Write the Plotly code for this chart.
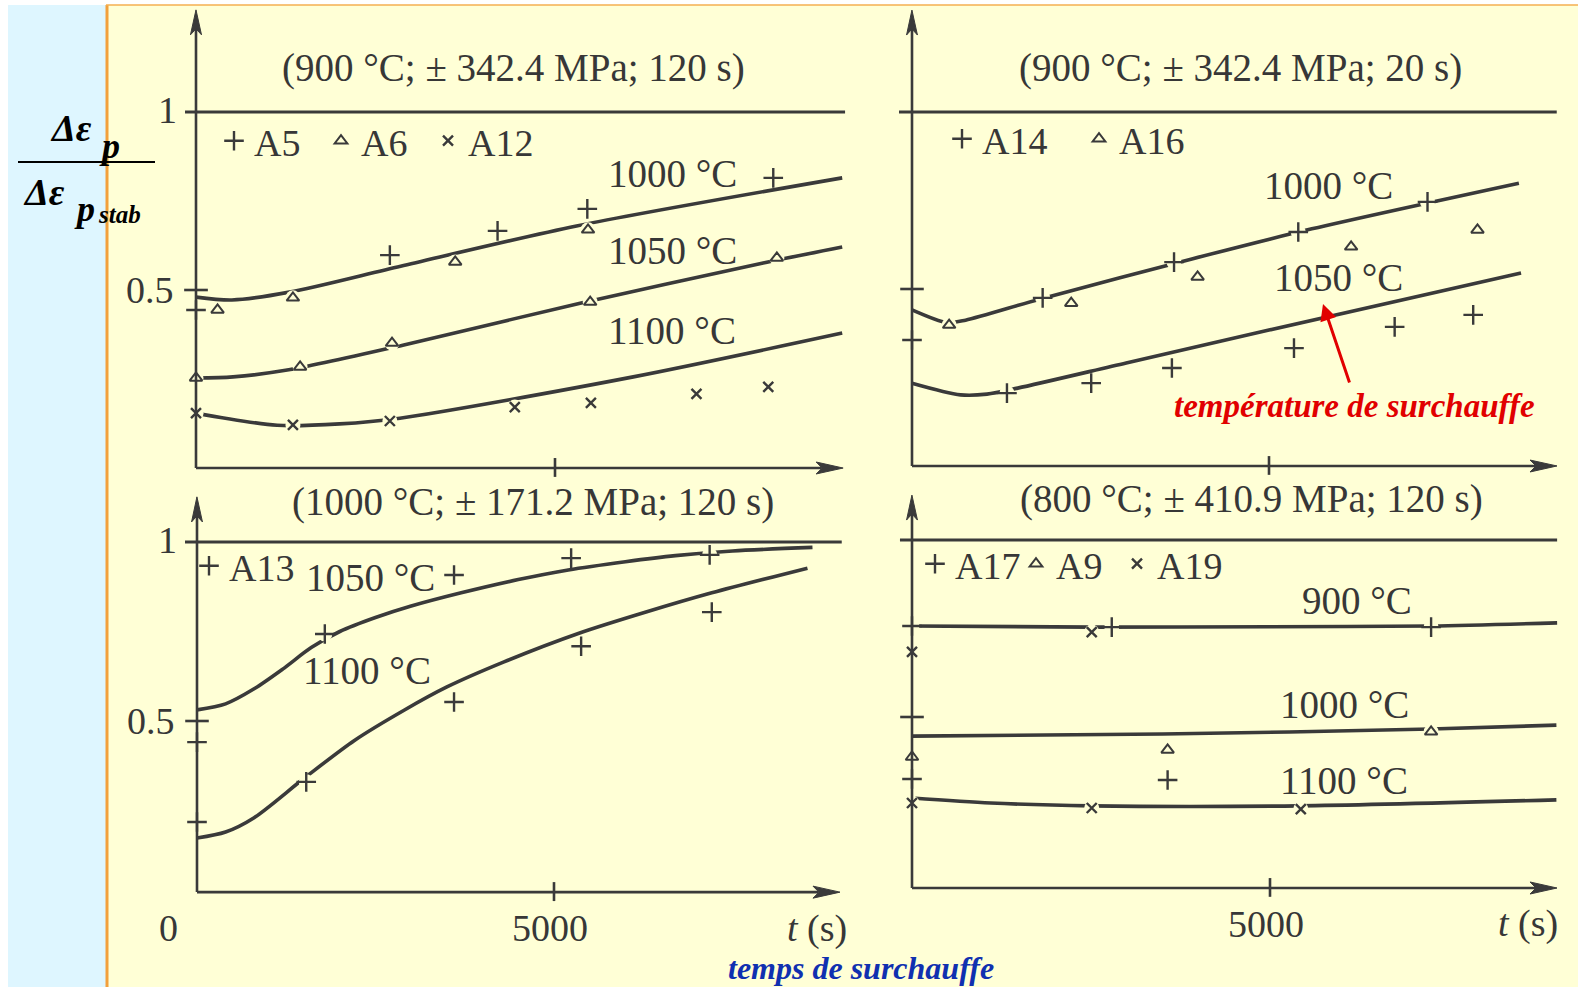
import plotly.graph_objects as go

W, H = 1578, 987

# ---------------- data (time in s, ratio Δεp/Δεp_stab) ----------------
# Top-left panel (900 °C; ±342.4 MPa; 120 s)
TL_C1000_T = [0, 500, 1300, 2850, 5300, 9000]
TL_C1000_V = [0.480, 0.472, 0.494, 0.567, 0.680, 0.815]
TL_C1050_T = [0, 515, 1270, 2880, 5350, 7900, 9000]
TL_C1050_V = [0.253, 0.256, 0.275, 0.345, 0.463, 0.576, 0.621]
TL_C1100_T = [0, 1130, 2000, 2840, 6090, 9000]
TL_C1100_V = [0.154, 0.120, 0.124, 0.140, 0.256, 0.379]
TL_A5_T = [0, 2700, 4200, 5450, 8040]
TL_A5_V = [0.444, 0.598, 0.666, 0.728, 0.815]
TL_A6_T = [300, 1350, 3610, 5460, 0, 1450, 2730, 5490, 8090]
TL_A6_V = [0.444, 0.478, 0.579, 0.669, 0.253, 0.284, 0.351, 0.466, 0.590]
TL_A12_T = [0, 1350, 2700, 4440, 5500, 6970, 7970]
TL_A12_V = [0.154, 0.121, 0.132, 0.171, 0.183, 0.208, 0.228]

# Top-right panel (900 °C; ±342.4 MPa; 20 s)
TR_C1000_T = [0, 490, 750, 1800, 3920, 5600, 8500]
TR_C1000_V = [0.441, 0.405, 0.412, 0.472, 0.585, 0.670, 0.799]
TR_C1050_T = [0, 680, 1050, 1480, 3000, 5000, 8530]
TR_C1050_V = [0.234, 0.201, 0.203, 0.220, 0.291, 0.384, 0.545]
TR_A14_T = [0, 1830, 3670, 5410, 7220, 1330, 2510, 3640, 5350, 6760, 7860]
TR_A14_V = [0.356, 0.475, 0.576, 0.661, 0.746, 0.206, 0.234, 0.277, 0.333, 0.393, 0.427]
TR_A16_T = [520, 2230, 4000, 6150, 7920]
TR_A16_V = [0.398, 0.460, 0.534, 0.619, 0.667]

# Bottom-left panel (1000 °C; ±171.2 MPa; 120 s)
BL_C1050_T = [0, 400, 800, 1200, 1600, 2000, 2500, 3000, 3700, 4500, 5200, 6000, 6700, 7500, 8620]
BL_C1050_V = [0.531, 0.548, 0.590, 0.645, 0.705, 0.750, 0.789, 0.821, 0.858, 0.895, 0.922, 0.945,
              0.962, 0.975, 0.985]
BL_C1100_T = [0, 400, 800, 1500, 2200, 2900, 3500, 4300, 5350, 6300, 7210, 8550]
BL_C1100_V = [0.173, 0.190, 0.230, 0.340, 0.445, 0.530, 0.595, 0.665, 0.745, 0.805, 0.858, 0.927]
BL_A13_T = [0, 1790, 3600, 5240, 7180, 0, 1530, 3600, 5380, 7210]
BL_A13_V = [0.441, 0.743, 0.908, 0.955, 0.964, 0.218, 0.330, 0.553, 0.709, 0.804]

# Bottom-right panel (800 °C; ±410.9 MPa; 120 s)
BR_C900_T = [0, 2500, 5000, 7250, 9010]
BR_C900_V = [0.757, 0.754, 0.755, 0.757, 0.766]
BR_C1000_T = [0, 3500, 7250, 9000]
BR_C1000_V = [0.446, 0.452, 0.466, 0.477]
BR_C1100_T = [0, 1100, 2500, 5400, 9000]
BR_C1100_V = [0.271, 0.257, 0.249, 0.249, 0.266]
BR_A17_T = [0, 2790, 7250, 0, 3570]
BR_A17_V = [0.757, 0.754, 0.754, 0.325, 0.322]
BR_A9_T = [0, 3570, 7250]
BR_A9_V = [0.387, 0.407, 0.458]
BR_A19_T = [2510, 0, 0, 2510, 5430]
BR_A19_V = [0.740, 0.684, 0.257, 0.243, 0.240]

TITLES = ["(900 °C; ± 342.4 MPa; 120 s)", "(900 °C; ± 342.4 MPa; 20 s)",
          "(1000 °C; ± 171.2 MPa; 120 s)", "(800 °C; ± 410.9 MPa; 120 s)"]
X_TICK = 5000
Y_TICK = 0.5
REF_LEVEL = 1.0

# ---------------- layout geometry (pixels) ----------------
PANELS = {
    "TL": dict(ax="", dom_x=(140, 865), dom_y=(3, 490), X0=196, X5=555, Y0=468, Y1=112,
               axis_v=0.0, t_tip=9013, v_tip=1.287, ref=(-153, 9040)),
    "TR": dict(ax="2", dom_x=(870, 1578), dom_y=(3, 490), X0=912, X5=1269, Y0=466, Y1=112,
               axis_v=0.0, t_tip=9034, v_tip=1.288, ref=(-182, 9030)),
    "BL": dict(ax="3", dom_x=(140, 865), dom_y=(490, 960), X0=197, X5=554, Y0=900, Y1=542,
               axis_v=0.022, t_tip=9006, v_tip=1.126, ref=(-168, 9030)),
    "BR": dict(ax="4", dom_x=(870, 1578), dom_y=(490, 960), X0=912, X5=1270, Y0=894, Y1=540,
               axis_v=0.017, t_tip=9008, v_tip=1.127, ref=(-168, 9010)),
}

INK = "rgb(58,58,58)"
TXT = "rgb(55,55,55)"
BG = "rgb(255,255,214)"
SERIF = "Liberation Serif"


def px_of(p, t, v):
    X = p["X0"] + t * (p["X5"] - p["X0"]) / 5000.0
    Y = p["Y0"] - v * (p["Y0"] - p["Y1"])
    return X, Y


def P(x, y):
    return x / W, 1 - y / H


fig = go.Figure()
layout = dict(width=W, height=H, margin=dict(l=0, r=0, t=0, b=0),
              paper_bgcolor="white", plot_bgcolor="rgba(0,0,0,0)", showlegend=True)
shapes, annotations = [], []

for key, p in PANELS.items():
    k = 5000.0 / (p["X5"] - p["X0"])
    s = p["Y0"] - p["Y1"]
    xr = [(p["dom_x"][0] - p["X0"]) * k, (p["dom_x"][1] - p["X0"]) * k]
    yr = [(p["Y0"] - p["dom_y"][1]) / s, (p["Y0"] - p["dom_y"][0]) / s]
    axs = dict(visible=False, showgrid=False, zeroline=False, fixedrange=True)
    layout["xaxis" + p["ax"]] = dict(axs, domain=[p["dom_x"][0] / W, p["dom_x"][1] / W], range=xr,
                                     anchor="y" + p["ax"])
    layout["yaxis" + p["ax"]] = dict(axs, domain=[1 - p["dom_y"][1] / H, 1 - p["dom_y"][0] / H], range=yr,
                                     anchor="x" + p["ax"])
    xref, yref = "x" + p["ax"], "y" + p["ax"]
    av = p["axis_v"]
    line = dict(color=INK, width=2.6)
    # reference line at 1
    shapes.append(dict(type="line", xref=xref, yref=yref, x0=p["ref"][0], x1=p["ref"][1],
                       y0=REF_LEVEL, y1=REF_LEVEL, line=dict(color=INK, width=3)))
    # axes
    shapes.append(dict(type="line", xref=xref, yref=yref, x0=0, x1=p["t_tip"] - 300,
                       y0=av, y1=av, line=line))
    shapes.append(dict(type="line", xref=xref, yref=yref, x0=0, x1=0,
                       y0=av, y1=p["v_tip"] - 0.05, line=line))
    # ticks
    shapes.append(dict(type="line", xref=xref, yref=yref, x0=-165, x1=165,
                       y0=Y_TICK, y1=Y_TICK, line=line))
    shapes.append(dict(type="line", xref=xref, yref=yref, x0=X_TICK, x1=X_TICK,
                       y0=av - 0.025, y1=av + 0.028, line=line))
    # arrow heads (pixel geometry)
    tx, ty = px_of(p, p["t_tip"], av)
    L, hw = 27, 6
    pts = [(tx, ty), (tx - L, ty - hw), (tx - L + 6, ty), (tx - L, ty + hw)]
    path = "M " + " L ".join("%.4f,%.4f" % P(a, b) for a, b in pts) + " Z"
    shapes.append(dict(type="path", xref="paper", yref="paper", path=path,
                       fillcolor=INK, line=dict(color=INK, width=1)))
    ux, uy = px_of(p, 0, p["v_tip"])
    L, hw = 25, 5.5
    pts = [(ux, uy), (ux - hw, uy + L), (ux, uy + L - 6), (ux + hw, uy + L)]
    path = "M " + " L ".join("%.4f,%.4f" % P(a, b) for a, b in pts) + " Z"
    shapes.append(dict(type="path", xref="paper", yref="paper", path=path,
                       fillcolor=INK, line=dict(color=INK, width=1)))

# backgrounds
shapes = [
    dict(type="rect", xref="paper", yref="paper", x0=8 / W, x1=106 / W, y0=0, y1=1 - 5 / H,
         fillcolor="rgb(222,246,255)", line=dict(width=0), layer="below"),
    dict(type="rect", xref="paper", yref="paper", x0=106 / W, x1=1, y0=0, y1=1 - 5 / H,
         fillcolor=BG, line=dict(width=0), layer="below"),
    dict(type="line", xref="paper", yref="paper", x0=107 / W, x1=107 / W, y0=0, y1=1 - 5 / H,
         line=dict(color="rgb(242,160,60)", width=3), layer="below"),
    dict(type="line", xref="paper", yref="paper", x0=106 / W, x1=1, y0=1 - 5 / H, y1=1 - 5 / H,
         line=dict(color="rgb(245,175,80)", width=1.5), layer="below"),
    dict(type="line", xref="paper", yref="paper", x0=18 / W, x1=155 / W, y0=1 - 162 / H, y1=1 - 162 / H,
         line=dict(color="black", width=2)),
] + shapes


def curve(t, v, ax):
    fig.add_trace(go.Scatter(x=t, y=v, mode="lines", line=dict(color=INK, width=3.6, shape="spline",
                             smoothing=0.8), showlegend=False, hoverinfo="skip",
                             xaxis="x" + ax, yaxis="y" + ax))


MK = {
    "+": dict(symbol="cross-thin", size=14, line=dict(color=INK, width=2.4), color=INK),
    "^": dict(symbol="triangle-up-open", size=11, line=dict(color=INK, width=2), color=INK),
    "x": dict(symbol="x-thin", size=10, line=dict(color=INK, width=2.4), color=INK),
}


def points(t, v, ax, sym, name, legend):
    # small background halo: the hand-drawn curves are interrupted around the symbols
    fig.add_trace(go.Scatter(x=t, y=v, mode="markers", showlegend=False, hoverinfo="skip",
                             marker=dict(symbol="circle", size=15, color=BG, line=dict(width=0)),
                             xaxis="x" + ax, yaxis="y" + ax, cliponaxis=False))
    fig.add_trace(go.Scatter(x=t, y=v, mode="markers", marker=MK[sym], name=name,
                             legend=legend, xaxis="x" + ax, yaxis="y" + ax, cliponaxis=False))


curve(TL_C1000_T, TL_C1000_V, "")
curve(TL_C1050_T, TL_C1050_V, "")
curve(TL_C1100_T, TL_C1100_V, "")
points(TL_A5_T, TL_A5_V, "", "+", "A5", "legend")
points(TL_A6_T, TL_A6_V, "", "^", "A6", "legend")
points(TL_A12_T, TL_A12_V, "", "x", "A12", "legend")

curve(TR_C1000_T, TR_C1000_V, "2")
curve(TR_C1050_T, TR_C1050_V, "2")
points(TR_A14_T, TR_A14_V, "2", "+", "A14", "legend2")
points(TR_A16_T, TR_A16_V, "2", "^", "A16", "legend2")

curve(BL_C1050_T, BL_C1050_V, "3")
curve(BL_C1100_T, BL_C1100_V, "3")
points(BL_A13_T, BL_A13_V, "3", "+", "A13", "legend3")

curve(BR_C900_T, BR_C900_V, "4")
curve(BR_C1000_T, BR_C1000_V, "4")
curve(BR_C1100_T, BR_C1100_V, "4")
points(BR_A17_T, BR_A17_V, "4", "+", "A17", "legend4")
points(BR_A9_T, BR_A9_V, "4", "^", "A9", "legend4")
points(BR_A19_T, BR_A19_V, "4", "x", "A19", "legend4")
# empty legend slot so the last entry of the tight legend is not cut
fig.add_trace(go.Scatter(x=[None], y=[None], mode="markers", name=" ", legend="legend4",
                         marker=dict(size=1, color="rgba(0,0,0,0)", line=dict(width=0)),
                         xaxis="x4", yaxis="y4", hoverinfo="skip"))

LEG = dict(orientation="h", bgcolor="rgba(0,0,0,0)", xanchor="left", yanchor="middle",
           font=dict(family=SERIF, size=38, color=TXT), itemsizing="trace", traceorder="normal")
for name, (lx, ly, ew) in {"legend": (214, 141, 62), "legend2": (942, 139, 92),
                           "legend3": (189, 566, 60), "legend4": (915, 564, 56)}.items():
    x, y = P(lx, ly)
    layout[name] = dict(LEG, x=x, y=y, entrywidth=ew)


def txt(x, y, s, size=39, color=TXT, family=SERIF, xanchor="center"):
    xx, yy = P(x, y)
    annotations.append(dict(x=xx, y=yy, xref="paper", yref="paper", text=s, showarrow=False,
                            xanchor=xanchor, yanchor="middle",
                            font=dict(family=family, size=size, color=color)))


# titles
txt(513, 68, TITLES[0])
txt(1240, 68, TITLES[1])
txt(533, 502, TITLES[2])
txt(1251, 499, TITLES[3])
# curve labels
txt(672, 173, "1000 °C")
txt(672, 250, "1050 °C")
txt(672, 330, "1100 °C")
txt(1328, 186, "1000 °C")
txt(1338, 277, "1050 °C")
txt(370, 577, "1050 °C")
txt(367, 670, "1100 °C")
txt(1357, 600, "900 °C")
txt(1344, 704, "1000 °C")
txt(1344, 780, "1100 °C")


def axtxt(ax, x, y, s, xanchor="center", yanchor="middle", xshift=0, yshift=0):
    annotations.append(dict(x=x, y=y, xref="x" + ax, yref="y" + ax, text=s, showarrow=False,
                            xanchor=xanchor, yanchor=yanchor, xshift=xshift, yshift=yshift,
                            font=dict(family=SERIF, size=38, color=TXT)))


# tick labels
axtxt("", 0, 1.0, "1", xanchor="right", xshift=-17, yshift=2)
axtxt("", 0, 0.5, "0.5", xanchor="right", xshift=-20)
axtxt("3", 0, 1.0, "1", xanchor="right", xshift=-18, yshift=2)
axtxt("3", 0, 0.5, "0.5", xanchor="right", xshift=-20)
axtxt("3", 0, 0.022, "0", xanchor="center", xshift=-29, yshift=-36)
axtxt("3", X_TICK, 0.022, "5000", yshift=-36, xshift=-4)
axtxt("4", X_TICK, 0.017, "5000", yshift=-36, xshift=-4)
axtxt("3", 8690, 0.022, "<i>t</i> (s)", yshift=-36)
axtxt("4", 8610, 0.017, "<i>t</i> (s)", yshift=-36)

# y-label fraction
BI = "Liberation Serif"
txt(71, 128, "<b><i>Δε</i></b>", 38, "black", BI)
txt(110, 146, "<b><i>p</i></b>", 36, "black", BI)
txt(44, 192, "<b><i>Δε</i></b>", 38, "black", BI)
txt(84, 209, "<b><i>p</i></b>", 36, "black", BI)
txt(119, 214, "<b><i>stab</i></b>", 25, "black", BI)

# coloured comments
txt(1354, 406, "<b><i>température de surchauffe</i></b>", 33, "rgb(225,0,0)", BI)
txt(861, 968, "<b><i>temps de surchauffe</i></b>", 32, "rgb(16,48,176)", BI)
hx, hy = P(1323, 304)
annotations.append(dict(x=hx, y=hy, xref="paper", yref="paper", ax=27, ay=80, text="",
                        showarrow=True, arrowhead=2, arrowsize=1.1, arrowwidth=3,
                        arrowcolor="rgb(225,0,0)"))

layout["shapes"] = shapes
layout["annotations"] = annotations
fig.update_layout(**layout)
fig.write_html("out.html")
